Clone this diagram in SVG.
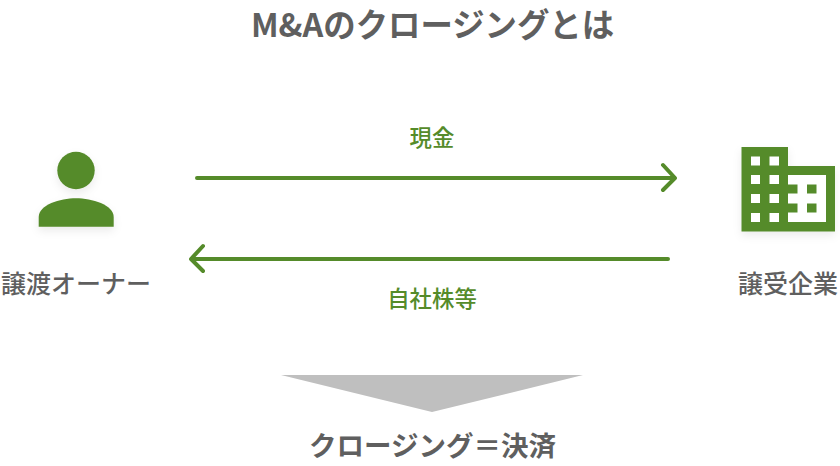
<svg xmlns="http://www.w3.org/2000/svg" width="840" height="466" viewBox="0 0 840 466">
<defs><filter id="s" x="-20%" y="-20%" width="140%" height="150%"><feDropShadow dx="0" dy="4" stdDeviation="4" flood-color="#000" flood-opacity=".08"/></filter></defs>
<style>
text{font-family:"Noto Sans CJK JP","Noto Sans",sans-serif;text-anchor:middle;font-weight:500}
.d{fill:#5f5f5f;font-size:25px}
.g{fill:#558b2a;font-size:22.4px}
.a{fill:none;stroke:#558b2a;stroke-width:4;stroke-linecap:round;stroke-linejoin:round}
</style>
<rect width="840" height="466" fill="#fff"/>
<text x="432.500" y="36.500" class="d" style="font-size:32.400px;font-weight:700">M&amp;Aのクロージングとは</text>
<g id="owner"><g filter="url(#s)" fill="#558b2a"><circle cx="76" cy="170.500" r="18.700"/><path d="M38.700 226.700V217C38.700 205 60 198.300 76 198.300S113.700 205 113.700 217V226.700Z"/></g><text x="76" y="293" class="d">譲渡オーナー</text></g>
<g id="company"><g filter="url(#s)"><path fill="#558b2a" d="M741.500 147H788V166H835V231.500H741.500Z"/></g><g fill="#fff"><rect x="751" y="156.500" width="9" height="9"/><rect x="769.500" y="156.500" width="9.500" height="9"/><rect x="751" y="175" width="9" height="9"/><rect x="769.500" y="175" width="9.500" height="9"/><rect x="751" y="194" width="9" height="9"/><rect x="769.500" y="194" width="9.500" height="9"/><rect x="751" y="213" width="9" height="9"/><rect x="769.500" y="213" width="9.500" height="9"/><rect x="788" y="175" width="38" height="47"/></g><g fill="#558b2a"><rect x="788" y="184.500" width="9.500" height="9"/><rect x="788" y="203.500" width="9.500" height="9"/><rect x="807" y="184.500" width="9.500" height="9"/><rect x="807" y="203.500" width="9.500" height="9"/></g><text x="788" y="293" class="d">譲受企業</text></g>
<g id="connectors"><path class="a" d="M197 178H674M663 165L675 178L663 190"/><path class="a" d="M668 259H192M203 246L191 259L203 271"/></g>
<text x="432" y="146" class="g">現金</text><text x="432" y="307" class="g">自社株等</text>
<polygon points="281,375 583,375 432,412" fill="#bfbfbf"/>
<text x="432.500" y="456" class="d" style="font-size:27.500px;font-weight:700">クロージング＝決済</text>
</svg>
